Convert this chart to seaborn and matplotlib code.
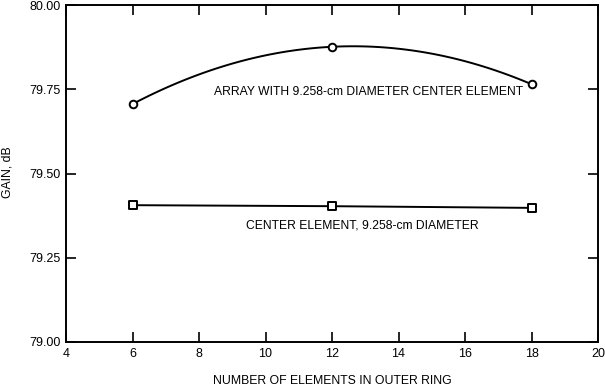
import matplotlib
matplotlib.use("Agg")
import matplotlib.pyplot as plt
import seaborn as sns

elements = [6, 12, 18]
array_gain = [79.706, 79.876, 79.765]
center_gain = [79.406, 79.403, 79.398]
x_ticks = [4, 6, 8, 10, 12, 14, 16, 18, 20]
y_ticks = [79.00, 79.25, 79.50, 79.75, 80.00]
y_tick_labels = ["79.00", "79.25", "79.50", "79.75", "80.00"]

sns.set_style("ticks")
plt.rcParams['font.family'] = ['Liberation Sans', 'DejaVu Sans']

fig = plt.figure(figsize=(6.05, 3.9), dpi=100)
ax = fig.add_axes([66 / 605, 1 - 342 / 390, 532 / 605, 337 / 390])

sns.regplot(x=elements, y=array_gain, order=2, ci=None, scatter=False, ax=ax,
            line_kws=dict(color='black', lw=1.4, zorder=2))
sns.scatterplot(x=elements, y=array_gain, marker='o', s=30, facecolor='white',
                edgecolor='black', linewidth=1.4, ax=ax, zorder=3)
sns.lineplot(x=elements, y=center_gain, color='black', lw=1.4, ax=ax, zorder=2)
sns.scatterplot(x=elements, y=center_gain, marker='s', s=28, facecolor='white',
                edgecolor='black', linewidth=1.4, ax=ax, zorder=3)

ax.set_xlim(4, 20)
ax.set_ylim(79.0, 80.0)
ax.set_xticks(x_ticks)
ax.set_yticks(y_ticks)
ax.set_yticklabels(y_tick_labels)
ax.tick_params(direction='in', top=True, right=True, length=7.5, width=1.2,
               labelsize=9, pad=4, color='black', labelcolor='black')
for s in ax.spines.values():
    s.set_linewidth(1.4)
    s.set_color('black')
ax.set_xlabel("NUMBER OF ELEMENTS IN OUTER RING", fontsize=8.8, labelpad=11, color='black')
ax.set_ylabel("")
fig.text(8 / 605, 1 - 172 / 390, "GAIN, dB", rotation=90, ha='center', va='center',
         fontsize=8.8, color='black')

ax.text(13.1, 79.741, "ARRAY WITH 9.258-cm DIAMETER CENTER ELEMENT", ha='center', va='center',
        fontsize=8.7, color='black')
ax.text(12.9, 79.347, "CENTER ELEMENT, 9.258-cm DIAMETER", ha='center', va='center',
        fontsize=8.7, color='black')

fig.savefig("out.png", dpi=100)
